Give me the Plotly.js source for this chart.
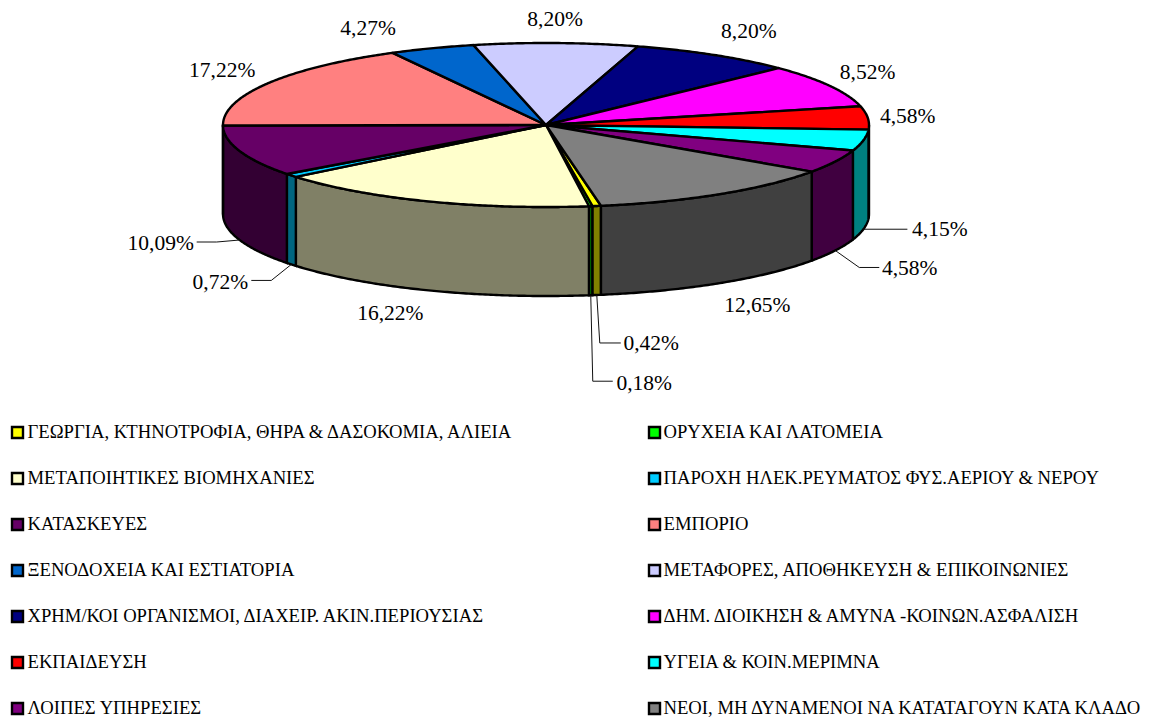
<!DOCTYPE html>
<html>
<head>
<meta charset="utf-8">
<script src="https://cdn.plot.ly/plotly-3.0.1.min.js"></script>
<style>html,body{margin:0;padding:0;background:#fff}#chart{width:1160px;height:720px}</style>
</head>
<body>
<div id="chart"></div>
<script>
// ---- data ----
const categories = [
  "ΓΕΩΡΓΙΑ, ΚΤΗΝΟΤΡΟΦΙΑ, ΘΗΡΑ & ΔΑΣΟΚΟΜΙΑ, ΑΛΙΕΙΑ",
  "ΟΡΥΧΕΙΑ ΚΑΙ ΛΑΤΟΜΕΙΑ",
  "ΜΕΤΑΠΟΙΗΤΙΚΕΣ ΒΙΟΜΗΧΑΝΙΕΣ",
  "ΠΑΡΟΧΗ ΗΛΕΚ.ΡΕΥΜΑΤΟΣ ΦΥΣ.ΑΕΡΙΟΥ & ΝΕΡΟΥ",
  "ΚΑΤΑΣΚΕΥΕΣ",
  "ΕΜΠΟΡΙΟ",
  "ΞΕΝΟΔΟΧΕΙΑ ΚΑΙ ΕΣΤΙΑΤΟΡΙΑ",
  "ΜΕΤΑΦΟΡΕΣ, ΑΠΟΘΗΚΕΥΣΗ & ΕΠΙΚΟΙΝΩΝΙΕΣ",
  "ΧΡΗΜ/ΚΟΙ ΟΡΓΑΝΙΣΜΟΙ, ΔΙΑΧΕΙΡ. ΑΚΙΝ.ΠΕΡΙΟΥΣΙΑΣ",
  "ΔΗΜ. ΔΙΟΙΚΗΣΗ & ΑΜΥΝΑ -ΚΟΙΝΩΝ.ΑΣΦΑΛΙΣΗ",
  "ΕΚΠΑΙΔΕΥΣΗ",
  "ΥΓΕΙΑ & ΚΟΙΝ.ΜΕΡΙΜΝΑ",
  "ΛΟΙΠΕΣ ΥΠΗΡΕΣΙΕΣ",
  "ΝΕΟΙ, ΜΗ ΔΥΝΑΜΕΝΟΙ ΝΑ ΚΑΤΑΤΑΓΟΥΝ ΚΑΤΑ ΚΛΑΔΟ"
];
const values = [0.42, 0.18, 16.22, 0.72, 10.09, 17.22, 4.27, 8.20, 8.20, 8.52, 4.58, 4.15, 4.58, 12.65];

// ---- styles ----
const topColors  = ["#FFFF00","#00FF00","#FFFFCC","#00CCFF","#660066","#FF8080","#0066CC","#CCCCFF","#000080","#FF00FF","#FF0000","#00FFFF","#800080","#808080"];
const wallColors = ["#808000","#008000","#808066","#006680","#330033","#804040","#003366","#666680","#000040","#800080","#800000","#008080","#400040","#404040"];

// ---- layout of the drawing ----
const CX = 546, CY = 125, RX = 323, RY = 82, DEPTH = 89, START = 170.2;
const SERIF = '"Liberation Serif","Times New Roman",serif';
// label centre relative to the slice's outer anchor point
const labelOffsets = [[54.5,50],[53.5,89],[-37,24],[-71,19],[-79,5],[-46,-11.5],[-64,-19],[-1,-22],[35,-22],[38,-12.5],[40,-0.5],[76.5,1],[74.5,19],[37.5,24]];
// leader polylines relative to the anchor (empty = no leader)
const leaderOffsets = [[[3,48],[24,48]],[[2,86],[22,86]],[],[[-20,16],[-40,16]],[[-23,2],[-43,2]],[],[],[],[],[],[],[[44,0]],[[24,17],[44,17]],[]];
const legendRows = {first: 432.5, step: 46, textDrop: 1};
const legendCols = {marker: [17.5, 654.5], text: [27.5, 663.5]};
// thin neighbours are stacked so that the smaller one sits underneath
const drawOrder = [1, 0, 2, 3, 4, 5, 6, 7, 8, 9, 10, 11, 12, 13];

// ---- projection ----
const rad = d => d * Math.PI / 180;
const px = a => CX + RX * Math.sin(rad(a));
const py = (a, drop) => CY - RY * Math.cos(rad(a)) + (drop || 0);
function arc(a0, a1, drop) {
  const n = Math.max(2, Math.ceil(Math.abs(a1 - a0) / 0.5));
  const xs = [], ys = [];
  for (let i = 0; i <= n; i++) {
    const a = a0 + (a1 - a0) * i / n;
    xs.push(px(a)); ys.push(py(a, drop));
  }
  return [xs, ys];
}

const total = values.reduce((s, v) => s + v, 0);
let cum = 0;
const slices = values.map(v => {
  const a0 = START + cum / total * 360;
  cum += v;
  const a1 = START + cum / total * 360;
  return {a0, a1, mid: (a0 + a1) / 2};
});

const traces = [];
const outline = {color: "#000000", width: 2.4, simplify: false};

// front walls: the part of each slice between 90 and 270 degrees (also +360)
drawOrder.forEach(i => {
  const s = slices[i];
  [0, 360].forEach(shift => {
    const from = Math.max(s.a0, 90 + shift), to = Math.min(s.a1, 270 + shift);
    if (to <= from) return;
    const [tx, ty] = arc(from, to, 0);
    const [bx, by] = arc(to, from, DEPTH);
    traces.push({type: "scatter", mode: "lines", x: tx.concat(bx, [tx[0]]), y: ty.concat(by, [ty[0]]),
      fill: "toself", fillcolor: wallColors[i], line: outline, hoverinfo: "skip", showlegend: false});
  });
});

// top faces
drawOrder.forEach(i => {
  const s = slices[i];
  const [ax, ay] = arc(s.a0, s.a1, 0);
  traces.push({type: "scatter", mode: "lines", x: [CX].concat(ax, [CX]), y: [CY].concat(ay, [CY]),
    fill: "toself", fillcolor: topColors[i], line: outline,
    name: categories[i], text: values[i].toFixed(2).replace(".", ",") + "%", hoverinfo: "name+text", showlegend: false});
});

// anchors
const anchors = slices.map(s => {
  const m = ((s.mid % 360) + 360) % 360;
  const front = m > 90 && m < 270;
  return [px(m), py(m, front ? DEPTH : 0)];
});

// leaders
const lx = [], ly = [];
leaderOffsets.forEach((pts, i) => {
  if (!pts.length) return;
  lx.push(anchors[i][0]); ly.push(anchors[i][1]);
  pts.forEach(p => { lx.push(anchors[i][0] + p[0]); ly.push(anchors[i][1] + p[1]); });
  lx.push(null); ly.push(null);
});
traces.push({type: "scatter", mode: "lines", x: lx, y: ly, line: {color: "#111111", width: 1}, hoverinfo: "skip", showlegend: false, connectgaps: false});

// value labels
traces.push({type: "scatter", mode: "text",
  x: anchors.map((a, i) => a[0] + labelOffsets[i][0]),
  y: anchors.map((a, i) => a[1] + labelOffsets[i][1]),
  text: values.map(v => v.toFixed(2).replace(".", ",") + "%"),
  textposition: "middle center", textfont: {family: SERIF, size: 21.5, color: "#000"},
  cliponaxis: false, hoverinfo: "skip", showlegend: false});

// legend: two columns
const col = i => i % 2, row = i => Math.floor(i / 2);
traces.push({type: "scatter", mode: "markers",
  x: categories.map((c, i) => legendCols.marker[col(i)]),
  y: categories.map((c, i) => legendRows.first + row(i) * legendRows.step),
  marker: {symbol: "square", size: 11, color: topColors, line: {color: "#000", width: 2.4}},
  cliponaxis: false, hoverinfo: "skip", showlegend: false});
traces.push({type: "scatter", mode: "text",
  x: categories.map((c, i) => legendCols.text[col(i)]),
  y: categories.map((c, i) => legendRows.first + legendRows.textDrop + row(i) * legendRows.step),
  text: categories, textposition: "middle right", textfont: {family: SERIF, size: 18.67, color: "#000"},
  cliponaxis: false, hoverinfo: "skip", showlegend: false});

const hidden = {visible: false, fixedrange: true, showgrid: false, zeroline: false};
Plotly.newPlot("chart", traces, {
  width: 1160, height: 720,
  margin: {l: 0, r: 0, t: 0, b: 0, pad: 0},
  paper_bgcolor: "#fff", plot_bgcolor: "#fff", showlegend: false,
  xaxis: Object.assign({range: [0, 1160]}, hidden),
  yaxis: Object.assign({range: [720, 0]}, hidden)
}, {displayModeBar: false});
</script>
</body>
</html>
